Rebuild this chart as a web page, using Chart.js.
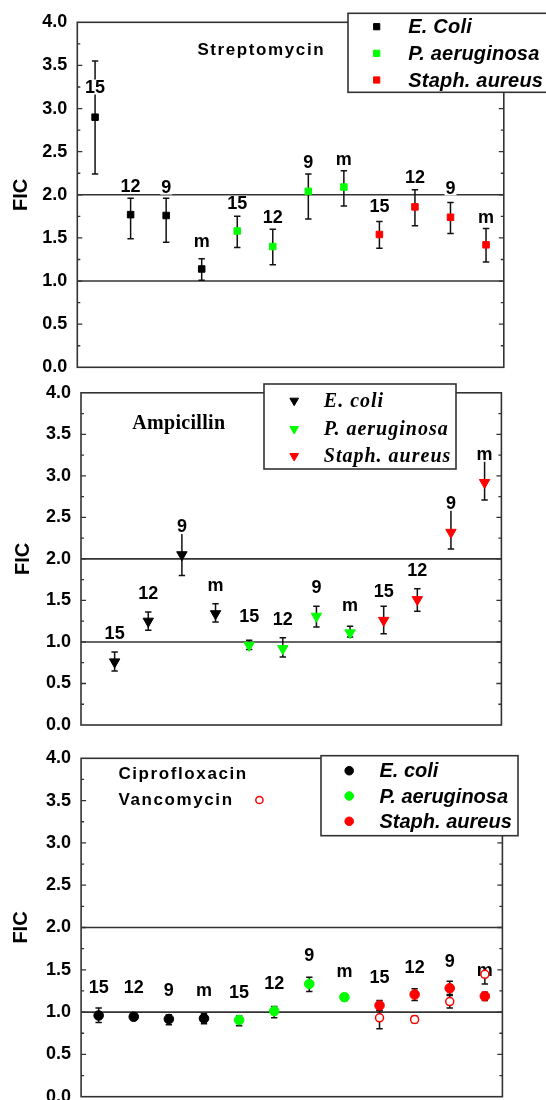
<!DOCTYPE html>
<html>
<head>
<meta charset="utf-8">
<script src="https://cdn.jsdelivr.net/npm/chart.js@4.4.0/dist/chart.umd.min.js"></script>
<style>
html,body{margin:0;padding:0;background:#fff;width:546px;height:1100px;overflow:hidden}
.panel{position:absolute;left:0;width:546px;overflow:hidden;background:transparent}
.panel canvas{position:absolute;left:0;top:0}
</style>
</head>
<body>
<div class="panel" style="top:0;height:372px"><canvas id="c1" width="546" height="390"></canvas></div>
<div class="panel" style="top:372px;height:358px;background:#fff"><canvas id="c2" width="546" height="380"></canvas></div>
<div class="panel" style="top:730px;height:370px;background:#fff"><canvas id="c3" width="546" height="400"></canvas></div>
<script>
// ---------------- DATA ----------------
const categories = ['15','12','9','m','15','12','9','m','15','12','9','m'];
const seriesNamesStrep = ['E. Coli','P. aeruginosa','Staph. aureus'];
const seriesNames = ['E. coli','P. aeruginosa','Staph. aureus'];
const yTickMin = 0, yTickMax = 4, yTickStep = 0.5;
const refLines = [1.0, 2.0];

// Streptomycin
const strepFIC     = [2.90,1.77,1.76,1.14, 1.58,1.40,2.04,2.09, 1.54,1.86,1.74,1.42];
const strepLow     = [2.24,1.49,1.45,1.01, 1.39,1.19,1.72,1.87, 1.38,1.64,1.55,1.22];
const strepHigh    = [3.55,1.96,1.96,1.26, 1.75,1.60,2.24,2.28, 1.69,2.06,1.91,1.61];
const strepLabelAt = [3.25,2.10,2.09,1.46, 1.90,1.74,2.38,2.41, 1.87,2.21,2.08,1.74];

// Ampicillin
const ampFIC     = [0.76,1.25,2.05,1.34, 0.96,0.92,1.31,1.11, 1.26,1.51,2.32,2.92];
const ampLow     = [0.65,1.14,1.80,1.24, 0.91,0.82,1.18,1.06, 1.10,1.37,2.12,2.71];
const ampHigh    = [0.88,1.36,2.36,1.46, 1.02,1.05,1.43,1.19, 1.43,1.64,2.64,3.22];
const ampLabelAt = [1.11,1.59,2.39,1.69, 1.31,1.28,1.66,1.45, 1.61,1.86,2.67,3.26];

// Ciprofloxacin
const ciproFIC     = [0.96,0.945,0.918,0.925, 0.906,1.012,1.333,1.176, 1.078,1.208,1.282,1.188];
const ciproLow     = [0.878,0.91,0.851,0.863, 0.839,0.933,1.243,1.137, 1.02,1.137,1.208,1.137];
const ciproHigh    = [1.047,0.98,0.969,0.98, 0.953,1.067,1.412,1.216, 1.137,1.275,1.365,1.235];
const ciproLabelAt = [1.294,1.294,1.255,1.255, 1.235,1.341,1.678,1.49, 1.412,1.53,1.608,1.50];

// Vancomycin (Staph. aureus only: 15, 12, 9, m)
const vancoFIC  = [0.933,0.914,1.125,1.447];
const vancoLow  = [0.804,0.875,1.047,1.333];
const vancoHigh = [1.02,0.95,1.196,1.52];

// ---------------- STYLE ----------------
const SANS = "'Liberation Sans', Arial, sans-serif";
const SERIF = "'Liberation Serif', 'Times New Roman', serif";
const COLORS = ['#000000','#00ff00','#ff0000'];
const LINE = '#333333';

const xPos = categories.map((c, i) => i + 1);

function pts(xs, v, lo, hi, from, to) {
  const out = [];
  for (let i = from; i < to; i++) out.push({x: xs[i], y: v[i], lo: lo[i], hi: hi[i]});
  return out;
}

function decoPlugin(p) {
  return {
    id: 'deco_' + p.id,
    beforeDatasetsDraw(chart) {
      const {ctx, chartArea: a, scales: {x, y}} = chart;
      ctx.save();
      ctx.strokeStyle = LINE; ctx.lineWidth = 1.6;
      refLines.forEach(v => {
        const py = y.getPixelForValue(v);
        ctx.beginPath(); ctx.moveTo(a.left, py); ctx.lineTo(a.right, py); ctx.stroke();
      });
      ctx.lineWidth = 1.3;
      for (let v = yTickMin + yTickStep / 2; v < yTickMax - 1e-9; v += yTickStep / 2) {
        const major = Math.abs(v / yTickStep - Math.round(v / yTickStep)) < 1e-6;
        const len = major ? 5 : 3;
        const py = y.getPixelForValue(v);
        ctx.beginPath();
        ctx.moveTo(a.left, py); ctx.lineTo(a.left + len, py);
        ctx.moveTo(a.right, py); ctx.lineTo(a.right - len, py);
        ctx.stroke();
      }
      ctx.strokeStyle = '#111'; ctx.lineWidth = 1.5;
      chart.data.datasets.forEach((ds, d) => {
        const meta = chart.getDatasetMeta(d);
        meta.data.forEach((el, j) => {
          const r = ds.data[j];
          const px = el.x;
          const yl = y.getPixelForValue(r.lo), yh = y.getPixelForValue(r.hi);
          ctx.beginPath();
          ctx.moveTo(px, yl); ctx.lineTo(px, yh);
          ctx.moveTo(px - 3.2, yl); ctx.lineTo(px + 3.2, yl);
          ctx.moveTo(px - 3.2, yh); ctx.lineTo(px + 3.2, yh);
          ctx.stroke();
        });
      });
      ctx.font = 'bold 18px ' + SANS;
      ctx.textAlign = 'center'; ctx.textBaseline = 'middle';
      categories.forEach((c, i) => {
        const px = x.getPixelForValue(xPos[i]);
        const py = y.getPixelForValue(p.labelAt[i]);
        const w = ctx.measureText(c).width;
        ctx.fillStyle = '#fff';
        ctx.fillRect(px - w / 2 - 1, py - 7.5, w + 2, 15);
        ctx.fillStyle = '#000';
        ctx.fillText(c, px, py + 1);
      });
      ctx.restore();
    },
    afterDraw(chart) {
      const {ctx, chartArea: a} = chart;
      ctx.save();
      ctx.strokeStyle = LINE; ctx.lineWidth = 1.6;
      ctx.strokeRect(a.left, a.top, a.width, a.height);
      ctx.fillStyle = '#000'; ctx.textAlign = 'left'; ctx.textBaseline = 'middle';
      p.titles.forEach(t => {
        ctx.font = t.font;
        ctx.letterSpacing = t.spacing || '0px';
        ctx.fillText(t.text, t.x, t.y);
        ctx.letterSpacing = '0px';
        if (t.marker != null) {
          const ds = chart.data.datasets[t.marker];
          ctx.fillStyle = ds.backgroundColor; ctx.strokeStyle = ds.borderColor; ctx.lineWidth = ds.borderWidth;
          Chart.helpers.drawPoint(ctx, {pointStyle: ds.pointStyle, rotation: ds.rotation || 0, radius: 3.6, borderWidth: ds.borderWidth}, t.mx, t.y);
          ctx.fillStyle = '#000';
        }
      });
      const L = p.legend;
      ctx.fillStyle = '#fff';
      ctx.fillRect(L.x, L.y, L.w, L.h);
      ctx.strokeStyle = LINE; ctx.lineWidth = 1.6;
      ctx.strokeRect(L.x, L.y, L.w, L.h);
      chart.data.datasets.slice(0, 3).forEach((ds, k) => {
        const ry = L.rows[k];
        ctx.fillStyle = ds.backgroundColor; ctx.strokeStyle = ds.borderColor; ctx.lineWidth = 1;
        Chart.helpers.drawPoint(ctx, {pointStyle: ds.pointStyle, rotation: ds.rotation || 0, radius: L.r, borderWidth: 1}, L.mx, ry);
        ctx.fillStyle = '#000';
        ctx.font = L.font; ctx.letterSpacing = L.spacing;
        ctx.fillText(ds.label, L.tx, ry + 1);
        ctx.letterSpacing = '0px';
      });
      ctx.restore();
    }
  };
}

function buildPanel(p) {
  return new Chart(document.getElementById(p.id), {
    type: 'scatter',
    data: {datasets: p.datasets},
    plugins: [decoPlugin(p)],
    options: {
      responsive: false, maintainAspectRatio: false, animation: false,
      devicePixelRatio: 1,
      layout: {padding: p.padding},
      plugins: {legend: {display: false}, tooltip: {enabled: false}},
      scales: {
        x: {type: 'linear', display: false, min: p.xMin, max: p.xMax},
        y: {
          min: yTickMin, max: yTickMax,
          grid: {display: false, drawTicks: false},
          border: {display: false},
          ticks: {stepSize: yTickStep, padding: 10, color: '#000',
            font: {family: SANS, size: 18, weight: 'bold'},
            callback: v => Number(v).toFixed(1)},
          title: {display: true, text: 'FIC', color: '#000',
            font: {family: SANS, size: 20, weight: 'bold'},
            padding: {top: p.titlePad, bottom: 0}},
          afterFit(scale) { scale.width = p.axisW; }
        }
      }
    }
  });
}

function seriesSets(names, vals, lo, hi, style) {
  return names.map((n, k) => Object.assign({
    label: n,
    data: pts(xPos, vals, lo, hi, 4 * k, 4 * k + 4),
    backgroundColor: COLORS[k], borderColor: COLORS[k], borderWidth: 1,
    showLine: false
  }, style));
}

buildPanel({
  id: 'c1', axisW: 77.3, titlePad: 9, xMin: 0.5, xMax: 12.5,
  padding: {left: 0, right: 42.2, top: 22.3, bottom: 22.7},
  labelAt: strepLabelAt,
  datasets: seriesSets(seriesNamesStrep, strepFIC, strepLow, strepHigh, {pointStyle: 'rect', pointRadius: 4.6}),
  titles: [{text: 'Streptomycin', x: 197.4, y: 50.7, font: 'bold 17px ' + SANS, spacing: '1.6px'}],
  legend: {x: 348, y: 13.3, w: 210, h: 79, mx: 376.7, tx: 408.3, rows: [26.7, 53.3, 80], r: 4.4,
           font: 'italic bold 20px ' + SANS, spacing: '0.2px'}
});

buildPanel({
  id: 'c2', axisW: 81, titlePad: 11, xMin: 0, xMax: 12.5,
  padding: {left: 0, right: 44.6, top: 13, bottom: 27},
  labelAt: ampLabelAt,
  datasets: seriesSets(seriesNames, ampFIC, ampLow, ampHigh, {pointStyle: 'triangle', rotation: 180, pointRadius: 6}),
  titles: [{text: 'Ampicillin', x: 132.3, y: 52, font: 'bold 20px ' + SERIF, spacing: '0.3px'}],
  legend: {x: 264, y: 12, w: 192, h: 85, mx: 294.2, tx: 323.8, rows: [28.7, 57, 84], r: 5,
           font: 'italic bold 20px ' + SERIF, spacing: '1px'}
});

const p3sets = seriesSets(seriesNames, ciproFIC, ciproLow, ciproHigh, {pointStyle: 'circle', pointRadius: 4.8});
p3sets.push({
  label: 'Vancomycin',
  data: pts(xPos.slice(8), vancoFIC, vancoLow, vancoHigh, 0, 4),
  pointStyle: 'circle', pointRadius: 4, backgroundColor: '#ffffff', borderColor: COLORS[2], borderWidth: 1.5,
  showLine: false
});
buildPanel({
  id: 'c3', axisW: 81.1, titlePad: 9, xMin: 0.5, xMax: 12.5,
  padding: {left: 0, right: 43.6, top: 28.3, bottom: 33.3},
  labelAt: ciproLabelAt,
  datasets: p3sets,
  titles: [
    {text: 'Ciprofloxacin', x: 118.4, y: 44.3, font: 'bold 17px ' + SANS, spacing: '1.6px'},
    {text: 'Vancomycin', x: 118.4, y: 70, font: 'bold 17px ' + SANS, spacing: '1.6px', marker: 3, mx: 259.4}
  ],
  legend: {x: 321, y: 25.7, w: 197, h: 80, mx: 349.2, tx: 379.5, rows: [40.7, 66, 91.3], r: 4.3,
           font: 'italic bold 20px ' + SANS, spacing: '0px'}
});
</script>
</body>
</html>
